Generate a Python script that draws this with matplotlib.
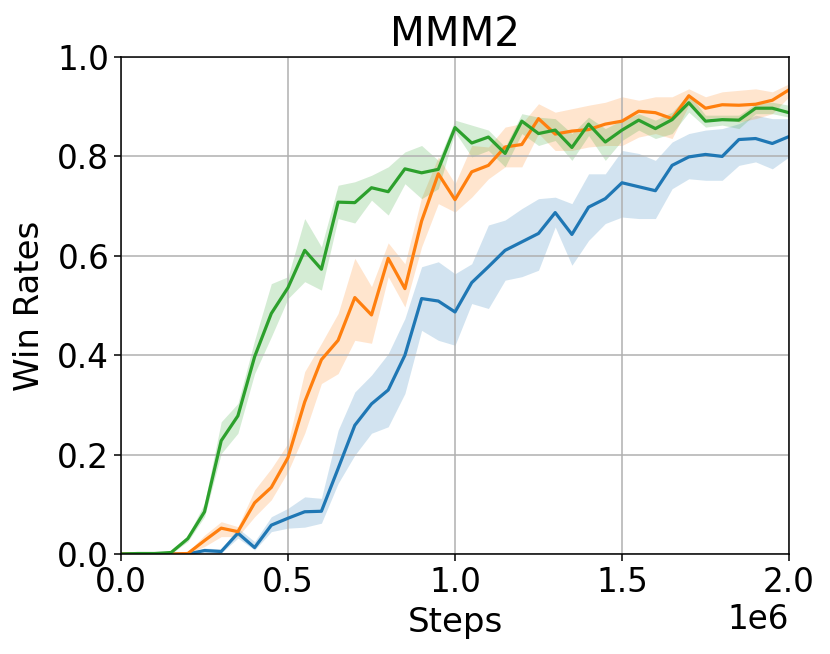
import numpy as np
import matplotlib
matplotlib.use("Agg")
import matplotlib.pyplot as plt

steps = [i * 50000 for i in range(41)]

blue_mean = [0, 0, 0, 0, 0, 0.007, 0.005, 0.042, 0.013, 0.058, 0.072, 0.085, 0.086, 0.172, 0.259,
             0.302, 0.330, 0.400, 0.514, 0.509, 0.487, 0.546, 0.578, 0.611, 0.628, 0.645, 0.687,
             0.643, 0.698, 0.715, 0.747, 0.739, 0.731, 0.782, 0.799, 0.804, 0.800, 0.834, 0.836,
             0.826, 0.840]
blue_low = [0, 0, 0, 0, 0, 0.002, 0.002, 0.032, 0.008, 0.045, 0.052, 0.054, 0.062, 0.142, 0.199,
            0.243, 0.256, 0.323, 0.450, 0.430, 0.420, 0.504, 0.494, 0.551, 0.558, 0.571, 0.658,
            0.581, 0.631, 0.665, 0.678, 0.675, 0.675, 0.735, 0.755, 0.752, 0.752, 0.782, 0.789,
            0.775, 0.799]
blue_high = [0, 0, 0, 0, 0, 0.012, 0.010, 0.052, 0.025, 0.075, 0.092, 0.115, 0.112, 0.249, 0.326,
             0.360, 0.403, 0.474, 0.578, 0.588, 0.564, 0.584, 0.662, 0.672, 0.695, 0.715, 0.718,
             0.705, 0.765, 0.765, 0.812, 0.806, 0.792, 0.829, 0.846, 0.853, 0.856, 0.866, 0.883,
             0.876, 0.876]

orange_mean = [0, 0, 0, 0, 0.001, 0.027, 0.052, 0.045, 0.103, 0.134, 0.194, 0.306, 0.391, 0.430,
               0.516, 0.481, 0.595, 0.534, 0.670, 0.765, 0.713, 0.769, 0.782, 0.819, 0.824, 0.876,
               0.845, 0.851, 0.854, 0.865, 0.871, 0.891, 0.888, 0.876, 0.922, 0.897, 0.904, 0.903,
               0.905, 0.913, 0.934]
orange_low = [0, 0, 0, 0, 0, 0.015, 0.035, 0.035, 0.075, 0.109, 0.166, 0.243, 0.343, 0.363, 0.430,
              0.424, 0.558, 0.497, 0.618, 0.705, 0.688, 0.718, 0.755, 0.779, 0.779, 0.846, 0.812,
              0.812, 0.819, 0.822, 0.822, 0.839, 0.846, 0.836, 0.903, 0.876, 0.879, 0.869, 0.876,
              0.886, 0.920]
orange_high = [0, 0, 0, 0, 0.004, 0.038, 0.065, 0.055, 0.129, 0.172, 0.223, 0.367, 0.424, 0.484,
               0.595, 0.538, 0.626, 0.584, 0.718, 0.799, 0.745, 0.822, 0.819, 0.859, 0.866, 0.906,
               0.889, 0.896, 0.903, 0.909, 0.920, 0.913, 0.920, 0.920, 0.936, 0.920, 0.930, 0.933,
               0.936, 0.930, 0.946]

green_mean = [0, 0.001, 0.001, 0.003, 0.031, 0.085, 0.228, 0.278, 0.397, 0.484, 0.536, 0.611, 0.573,
              0.708, 0.707, 0.737, 0.729, 0.775, 0.767, 0.774, 0.858, 0.827, 0.839, 0.806, 0.871,
              0.846, 0.853, 0.818, 0.865, 0.829, 0.853, 0.873, 0.856, 0.874, 0.908, 0.871, 0.874,
              0.873, 0.897, 0.897, 0.888]
green_low = [0, 0, 0, 0.001, 0.025, 0.075, 0.202, 0.243, 0.363, 0.437, 0.514, 0.548, 0.531, 0.675,
             0.666, 0.712, 0.682, 0.745, 0.715, 0.735, 0.849, 0.799, 0.812, 0.779, 0.846, 0.822,
             0.832, 0.792, 0.842, 0.792, 0.832, 0.853, 0.836, 0.846, 0.889, 0.859, 0.863, 0.856,
             0.886, 0.886, 0.879]
green_high = [0, 0.002, 0.002, 0.005, 0.037, 0.102, 0.266, 0.303, 0.430, 0.544, 0.558, 0.675, 0.618,
              0.742, 0.749, 0.762, 0.779, 0.809, 0.822, 0.792, 0.873, 0.863, 0.853, 0.819, 0.886,
              0.879, 0.876, 0.846, 0.879, 0.856, 0.873, 0.886, 0.873, 0.889, 0.926, 0.883, 0.883,
              0.883, 0.906, 0.909, 0.903]

series = [
    (blue_mean, blue_low, blue_high, "#1f77b4"),
    (orange_mean, orange_low, orange_high, "#ff7f0e"),
    (green_mean, green_low, green_high, "#2ca02c"),
]

fig = plt.figure(figsize=(8.3, 6.54), dpi=100)
ax = fig.add_axes([0.1458, 0.1529, 0.8048, 0.7599])

for m, lo, hi, c in series:
    ax.fill_between(steps, lo, hi, color=c, alpha=0.2, linewidth=0)
    ax.plot(steps, m, color=c, linewidth=2.3)

ax.set_xlim(0, 2000000)
ax.set_ylim(0, 1.0)
ax.set_xticks([0, 500000, 1000000, 1500000, 2000000])
ax.set_yticks([0, 0.2, 0.4, 0.6, 0.8, 1.0])
ax.grid(True, color="#b0b0b0", linewidth=1.1)
ax.tick_params(labelsize=23.5, width=1.1, length=5)
for s in ax.spines.values():
    s.set_linewidth(1.1)
ax.xaxis.get_offset_text().set_fontsize(23.5)
ax.set_xlabel("Steps", fontsize=24.5, labelpad=5)
ax.set_ylabel("Win Rates", fontsize=24.5, labelpad=8)
ax.set_title("MMM2", fontsize=29, pad=8)

fig.savefig("out.png", dpi=100)
